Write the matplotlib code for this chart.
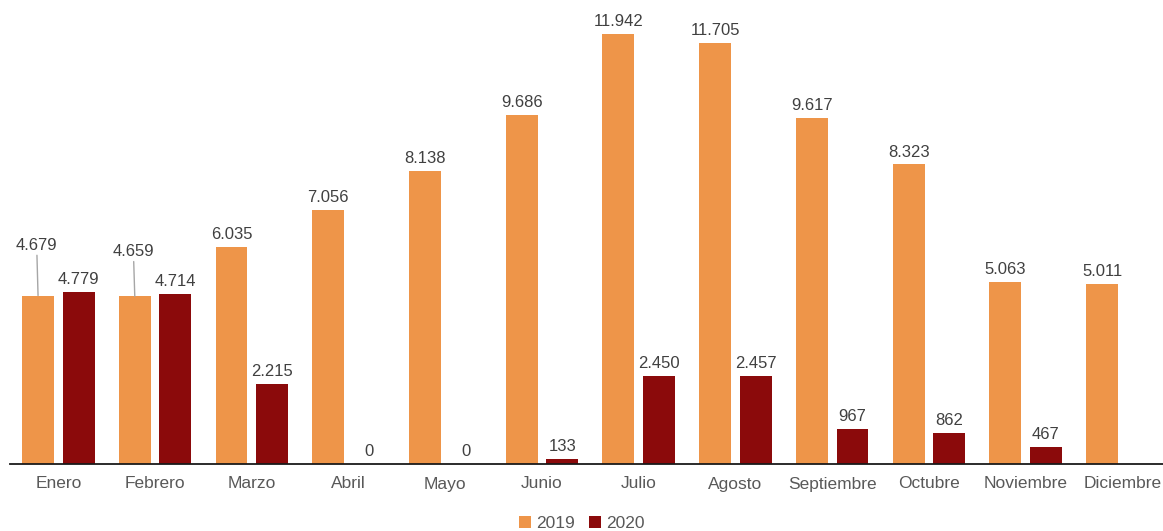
import numpy as np
import matplotlib.pyplot as plt

plt.rcParams['font.family'] = ['Liberation Sans', 'DejaVu Sans']

meses = ["Enero", "Febrero", "Marzo", "Abril", "Mayo", "Junio", "Julio",
         "Agosto", "Septiembre", "Octubre", "Noviembre", "Diciembre"]
v2019 = [4679, 4659, 6035, 7056, 8138, 9686, 11942, 11705, 9617, 8323, 5063, 5011]
v2020 = [4779, 4714, 2215, 0, 0, 133, 2450, 2457, 967, 862, 467, None]

c2019 = "#EE9549"
c2020 = "#8B0A0B"


def fmt(v):
    return f"{v:,}".replace(",", ".")


fig = plt.figure(figsize=(11.63, 5.31), dpi=100)
ax = fig.add_axes([10 / 1163, 1 - 464 / 531, 1 - 10 / 1163, 454 / 531])

x = np.arange(len(meses))
w = 0.33
off = 0.21

b1 = ax.bar(x - off, v2019, w, color=c2019, label="2019")
x20 = [i for i, v in enumerate(v2020) if v is not None]
y20 = [v2020[i] for i in x20]
b2 = ax.bar(np.array(x20) + off, y20, w, color=c2020, label="2020")

# etiquetas de valores
for i, v in enumerate(v2019):
    if i in (0, 1):
        # etiquetas desplazadas con línea guía
        ax.annotate(fmt(v), xy=(i - off, v), xytext=(-1, 31 if i == 0 else 27),
                    textcoords="offset points", ha="center", va="bottom",
                    fontsize=12, color="#404040",
                    arrowprops=dict(arrowstyle="-", color="#A6A6A6", lw=1,
                                    shrinkA=0, shrinkB=0))
    else:
        ax.annotate(fmt(v), xy=(i - off, v), xytext=(0, 3.5),
                    textcoords="offset points", ha="center", va="bottom",
                    fontsize=12, color="#404040")
for i, v in zip(x20, y20):
    ax.annotate(fmt(v), xy=(i + off, v), xytext=(0, 3.5),
                textcoords="offset points", ha="center", va="bottom",
                fontsize=12, color="#404040")

ax.set_xlim(-0.5, 11.42)
ax.set_ylim(0, 454 / 0.036)
ax.set_xticks(x)
ax.set_xticklabels(meses, fontsize=12.5, color="#595959")
ax.tick_params(axis="x", length=0, pad=9)
ax.set_yticks([])
for s in ("top", "right", "left"):
    ax.spines[s].set_visible(False)
ax.spines["bottom"].set_color("#1a1a1a")
ax.spines["bottom"].set_linewidth(1.3)

fig.legend(handles=[b1, b2], labels=["2019", "2020"], loc="lower center",
           bbox_to_anchor=(0.5, -0.03), ncol=2, frameon=False,
           fontsize=12.5, handlelength=0.7, handleheight=0.7,
           handletextpad=0.3, columnspacing=0.8, labelcolor="#595959")

fig.savefig("out.png", dpi=100)
